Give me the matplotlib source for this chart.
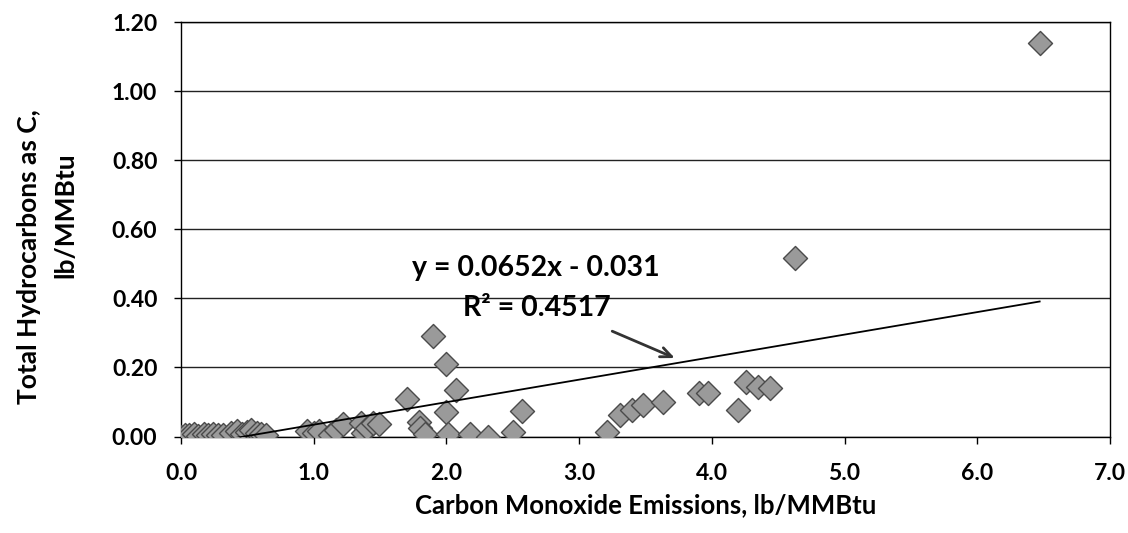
import matplotlib
matplotlib.use("Agg")
import matplotlib.pyplot as plt
import numpy as np

# CO emissions (lb/MMBtu) vs total hydrocarbons as C (lb/MMBtu)
co = [0.00, 0.03, 0.06, 0.10, 0.13, 0.17, 0.20, 0.24, 0.28, 0.32, 0.38, 0.42,
      0.46, 0.50, 0.53, 0.57, 0.60, 0.64,
      0.95, 1.00, 1.04, 1.12, 1.17, 1.22, 1.36, 1.37, 1.40, 1.45, 1.49,
      1.70, 1.79, 1.80, 1.84, 1.90, 2.00, 2.00, 2.01, 2.07, 2.18, 2.31, 2.50, 2.57,
      3.21, 3.31, 3.40, 3.48, 3.63, 3.90, 3.97, 4.20, 4.26, 4.35, 4.44,
      4.63, 6.47]
thc = [0.000, 0.005, 0.003, 0.008, 0.002, 0.006, 0.004, 0.007, 0.003, 0.005, 0.010, 0.015,
       0.008, 0.012, 0.018, 0.010, 0.006, 0.004,
       0.015, 0.010, 0.015, 0.003, 0.018, 0.035, 0.040, 0.010, 0.025, 0.040, 0.035,
       0.109, 0.042, 0.025, 0.008, 0.291, 0.210, 0.071, 0.007, 0.135, 0.007, 0.000, 0.013, 0.074,
       0.013, 0.062, 0.077, 0.091, 0.100, 0.126, 0.126, 0.077, 0.158, 0.144, 0.141,
       0.517, 1.138]

slope = 0.0652
intercept = -0.031
r2 = 0.4517

font = ["Lato", "DejaVu Sans"]
plt.rcParams['font.family'] = font
plt.rcParams['font.weight'] = 'bold'
plt.rcParams['axes.labelweight'] = 'bold'

fig = plt.figure(figsize=(11.28, 5.33), dpi=100)
ax = fig.add_axes([181/1128, 1 - 436.5/533, (1110-181)/1128, (436.5-22)/533])

ax.scatter(co, thc, marker='D', s=150, facecolor='#9a9a9a', edgecolor='#4a4a4a',
           linewidth=1.0, zorder=3)

xfit = np.array([min(co), max(co)])
ax.plot(xfit, slope*xfit + intercept, color='black', lw=1.3, zorder=4)

ax.set_xlim(0, 7)
ax.set_ylim(0, 1.2)
ax.set_xticks(np.arange(0, 7.1, 1.0))
ax.set_yticks(np.arange(0, 1.21, 0.2))
ax.xaxis.set_major_formatter(matplotlib.ticker.FormatStrFormatter('%.1f'))
ax.yaxis.set_major_formatter(matplotlib.ticker.FormatStrFormatter('%.2f'))
ax.grid(axis='y', color='#222222', lw=1.0)
ax.set_axisbelow(True)
for s in ax.spines.values():
    s.set_color('black')
    s.set_linewidth(1.0)
ax.tick_params(axis='both', direction='out', length=5, width=1, labelsize=16.5, color='black')
ax.tick_params(axis='x', pad=14)
ax.tick_params(axis='y', pad=12)

ax.set_xlabel("Carbon Monoxide Emissions, lb/MMBtu", fontsize=18.5, labelpad=7)
fig.text(29/1128, 1 - 257/533, "Total Hydrocarbons as C,", rotation=90, fontsize=19,
         ha='center', va='center')
fig.text(65/1128, 1 - 215/533, "lb/MMBtu", rotation=90, fontsize=19,
         ha='center', va='center')

ax.text(2.67, 0.488, "y = 0.0652x - 0.031", fontsize=20.5, ha='center', va='center')
ax.text(2.68, 0.372, "R² = 0.4517", fontsize=20.5, ha='center', va='center')
ax.annotate("", xy=(3.74, 0.224), xytext=(3.23, 0.308),
            arrowprops=dict(arrowstyle='->,head_length=0.8,head_width=0.35',
                            color='#333333', lw=2))

fig.savefig("out.png", dpi=100)
